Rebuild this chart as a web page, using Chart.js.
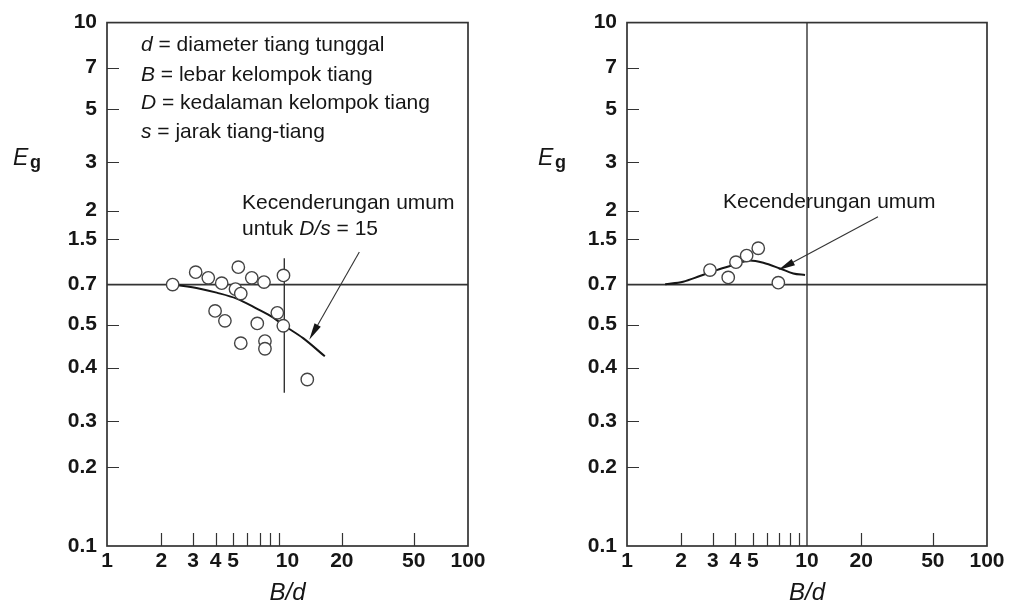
<!DOCTYPE html>
<html>
<head>
<meta charset="utf-8">
<title>Eg vs B/d</title>
<script src="https://cdn.jsdelivr.net/npm/chart.js@4.4.1/dist/chart.umd.min.js"></script>
<style>
    html, body { margin: 0; padding: 0; background: #fff; }
    #wrap { position: relative; width: 1014px; height: 608px; }
    canvas { position: absolute; top: 0; }
    #left-chart { left: 0; }
    #right-chart { left: 520px; }
</style>
</head>
<body>
<div id="wrap">
    <canvas id="left-chart" width="507" height="608"></canvas>
    <canvas id="right-chart" width="494" height="608"></canvas>
</div>
<script>
// Group efficiency Eg against B/d, two panels redrawn from a scanned figure.
const FONT = '"Liberation Sans", Arial, sans-serif';
const INK = '#161616';
const LINE = '#333';

// printed y labels (bottom to top) and where each one sits along the axis, 0 = bottom, 1 = top
const yTickValues = [0.1, 0.2, 0.3, 0.4, 0.5, 0.7, 1.5, 2, 3, 5, 7, 10];
const yTickStops = [0, 0.150, 0.239, 0.341, 0.423, 0.4995, 0.586, 0.641, 0.734, 0.834, 0.914, 1];
const yInnerTicks = [0.2, 0.3, 0.4, 0.5, 1.5, 2, 3, 5, 7];
const xTickLabels = [1, 2, 3, 4, 5, 10, 20, 50, 100];
const xInnerTicks = [2, 3, 4, 5, 6, 7, 8, 9, 20, 50];
const refLevel = 0.7;

// left panel
const leftBd = [2.31, 3.10, 3.64, 4.32, 5.34, 5.15, 5.51, 6.34, 7.41, 9.5, 3.97, 4.50, 6.80, 8.78, 9.48, 5.51, 7.50, 7.50, 12.87];
const leftEg = [0.70, 0.862, 0.784, 0.717, 0.938, 0.674, 0.649, 0.784, 0.73, 0.816, 0.561, 0.516, 0.505, 0.552, 0.497, 0.454, 0.459, 0.441, 0.375];
const leftTrendBd = [2.31, 3.27, 4.05, 5.23, 6.75, 8.34, 9.48, 12.2, 16.1];
const leftTrendEg = [0.70, 0.676, 0.654, 0.622, 0.572, 0.530, 0.499, 0.466, 0.424];
const leftMarkBd = [9.6, 9.6];
const leftMarkEg = [1.09, 0.349];
const leftArrowBd = [25.0, 13.2];
const leftArrowEg = [1.21, 0.462];

// right panel
const rightBd = [2.89, 3.65, 4.03, 4.62, 5.36, 6.93];
const rightEg = [0.893, 0.79, 1.02, 1.14, 1.29, 0.723];
const rightTrendBd = [1.63, 2.05, 2.54, 3.15, 3.89, 4.82, 5.72, 7.08, 8.39, 9.75];
const rightTrendEg = [0.705, 0.735, 0.808, 0.893, 0.97, 1.05, 1.01, 0.917, 0.844, 0.822];
const rightMarkBd = [10, 10];
const rightMarkEg = [0.1, 10];
const rightArrowBd = [24.8, 6.93];
const rightArrowEg = [1.88, 0.893];

function valueToStop(v) {
    let i = 0;
    while (i < yTickValues.length - 2 && v > yTickValues[i + 1]) i += 1;
    const a = Math.log(yTickValues[i]);
    const b = Math.log(yTickValues[i + 1]);
    const t = (Math.log(v) - a) / (b - a);
    return yTickStops[i] + t * (yTickStops[i + 1] - yTickStops[i]);
}

function stopToValue(s) {
    let i = 0;
    while (i < yTickStops.length - 2 && s > yTickStops[i + 1]) i += 1;
    const t = (s - yTickStops[i]) / (yTickStops[i + 1] - yTickStops[i]);
    const a = Math.log(yTickValues[i]);
    const b = Math.log(yTickValues[i + 1]);
    return Math.exp(a + t * (b - a));
}

// The scanned axis is not a clean log scale, so this scale follows the printed labels.
class PrintedScale extends Chart.Scale {
    determineDataLimits() {
        this.min = yTickValues[0];
        this.max = yTickValues[yTickValues.length - 1];
    }
    buildTicks() {
        return yTickValues.map(value => ({ value }));
    }
    getLabelForValue(value) {
        return String(value);
    }
    getPixelForValue(value) {
        return this.getPixelForDecimal(valueToStop(value));
    }
    getPixelForTick(index) {
        return this.getPixelForValue(this.ticks[index].value);
    }
    getValueForPixel(pixel) {
        return stopToValue(this.getDecimalForPixel(pixel));
    }
}
PrintedScale.id = 'printed';
PrintedScale.defaults = {};
Chart.register(PrintedScale);

function zip(xs, ys) {
    return xs.map((x, i) => ({ x, y: ys[i] }));
}

function drawRich(ctx, parts, x, y, size) {
    let cx = x;
    parts.forEach(part => {
        ctx.font = `${part.italic ? 'italic ' : ''}${size}px ${FONT}`;
        ctx.fillText(part.text, cx, y);
        cx += ctx.measureText(part.text).width;
    });
}

function drawArrow(ctx, x0, y0, x1, y1) {
    const ang = Math.atan2(y1 - y0, x1 - x0);
    const len = 17;
    const half = 3.6;
    const cos = Math.cos(ang);
    const sin = Math.sin(ang);
    ctx.lineWidth = 1.1;
    ctx.beginPath();
    ctx.moveTo(x0, y0);
    ctx.lineTo(x1 - cos * len * 0.7, y1 - sin * len * 0.7);
    ctx.stroke();
    ctx.beginPath();
    ctx.moveTo(x1, y1);
    ctx.lineTo(x1 - len * cos + half * sin, y1 - len * sin - half * cos);
    ctx.lineTo(x1 - len * cos - half * sin, y1 - len * sin + half * cos);
    ctx.closePath();
    ctx.fill();
}

const figureDecor = {
    id: 'figureDecor',
    afterDatasetsDraw(chart, args, opts) {
        const { ctx, chartArea: area, scales: { x, y } } = chart;
        ctx.save();
        ctx.strokeStyle = LINE;
        ctx.fillStyle = INK;

        // short ticks pointing into the plot
        ctx.lineWidth = 1.2;
        ctx.beginPath();
        xInnerTicks.forEach(v => {
            const px = Math.round(x.getPixelForValue(v)) + 0.5;
            ctx.moveTo(px, area.bottom);
            ctx.lineTo(px, area.bottom - 13);
        });
        yInnerTicks.forEach(v => {
            const py = Math.round(y.getPixelForValue(v)) + 0.5;
            ctx.moveTo(area.left, py);
            ctx.lineTo(area.left + 12, py);
        });
        ctx.stroke();

        ctx.lineWidth = 1.7;
        ctx.strokeRect(area.left, area.top, area.right - area.left, area.bottom - area.top);

        // arrow to the trend line
        const a = opts.arrow;
        drawArrow(ctx,
            x.getPixelForValue(a.bd[0]), y.getPixelForValue(a.eg[0]),
            x.getPixelForValue(a.bd[1]), y.getPixelForValue(a.eg[1]));

        // notes
        ctx.textBaseline = 'middle';
        ctx.textAlign = 'left';
        opts.notes.forEach(note => drawRich(ctx, note.parts, note.x, note.y, 21));

        // axis symbol E with subscript g
        ctx.font = `italic 23px ${FONT}`;
        ctx.fillText('E', opts.eg.x, opts.eg.y);
        ctx.font = `bold 18px ${FONT}`;
        ctx.fillText('g', opts.eg.x + 17, opts.eg.y + 4);
        ctx.restore();
    }
};

function buildDatasets(bd, eg, trendBd, trendEg, markBd, markEg) {
    return [
        {
            data: zip(bd, eg),
            showLine: false,
            pointRadius: 6.2,
            pointBackgroundColor: '#fff',
            pointBorderColor: '#444',
            pointBorderWidth: 1.4
        },
        {
            data: zip(trendBd, trendEg),
            showLine: true,
            borderColor: INK,
            borderWidth: 2,
            pointRadius: 0,
            cubicInterpolationMode: 'monotone'
        },
        {
            data: zip(markBd, markEg),
            showLine: true,
            borderColor: LINE,
            borderWidth: 1.4,
            pointRadius: 0
        },
        {
            data: zip([1, 100], [refLevel, refLevel]),
            showLine: true,
            borderColor: LINE,
            borderWidth: 1.7,
            pointRadius: 0
        }
    ];
}

function buildChart(canvasId, datasets, padding, decor) {
    const tickFont = { family: FONT, size: 21, weight: 'bold' };
    return new Chart(document.getElementById(canvasId), {
        type: 'scatter',
        data: { datasets },
        options: {
            responsive: false,
            animation: false,
            layout: { padding },
            plugins: {
                legend: { display: false },
                tooltip: { enabled: false },
                figureDecor: decor
            },
            scales: {
                x: {
                    type: 'logarithmic',
                    min: 1,
                    max: 100,
                    grid: { display: false, drawTicks: false },
                    border: { display: false },
                    afterBuildTicks: scale => { scale.ticks = xTickLabels.map(value => ({ value })); },
                    afterFit: scale => { scale.height = 62; },
                    ticks: {
                        autoSkip: false,
                        maxRotation: 0,
                        padding: 3,
                        color: INK,
                        font: tickFont,
                        callback: v => String(v)
                    },
                    title: {
                        display: true,
                        text: 'B/d',
                        color: INK,
                        font: { family: FONT, size: 24, style: 'italic' },
                        padding: { top: 0, bottom: 0 }
                    }
                },
                y: {
                    type: 'printed',
                    grid: { display: false, drawTicks: false },
                    border: { display: false },
                    afterFit: scale => { scale.width = 107; },
                    ticks: {
                        autoSkip: false,
                        padding: 10,
                        color: INK,
                        font: tickFont,
                        callback: v => String(v)
                    }
                }
            }
        },
        plugins: [figureDecor]
    });
}

buildChart('left-chart',
    buildDatasets(leftBd, leftEg, leftTrendBd, leftTrendEg, leftMarkBd, leftMarkEg),
    { left: 0, right: 39, top: 18, bottom: 0 },
    {
        arrow: { bd: leftArrowBd, eg: leftArrowEg },
        eg: { x: 13, y: 159 },
        notes: [
            { x: 141, y: 45, parts: [{ text: 'd', italic: true }, { text: ' = diameter tiang tunggal' }] },
            { x: 141, y: 75, parts: [{ text: 'B', italic: true }, { text: ' = lebar kelompok tiang' }] },
            { x: 141, y: 103, parts: [{ text: 'D', italic: true }, { text: ' = kedalaman kelompok tiang' }] },
            { x: 141, y: 132, parts: [{ text: 's', italic: true }, { text: ' = jarak tiang-tiang' }] },
            { x: 242, y: 203, parts: [{ text: 'Kecenderungan umum' }] },
            { x: 242, y: 229, parts: [{ text: 'untuk ' }, { text: 'D/s', italic: true }, { text: ' = 15' }] }
        ]
    });

buildChart('right-chart',
    buildDatasets(rightBd, rightEg, rightTrendBd, rightTrendEg, rightMarkBd, rightMarkEg),
    { left: 0, right: 27, top: 20, bottom: 0 },
    {
        arrow: { bd: rightArrowBd, eg: rightArrowEg },
        eg: { x: 18, y: 159 },
        notes: [
            { x: 203, y: 202, parts: [{ text: 'Kecenderungan umum' }] }
        ]
    });
</script>
</body>
</html>
